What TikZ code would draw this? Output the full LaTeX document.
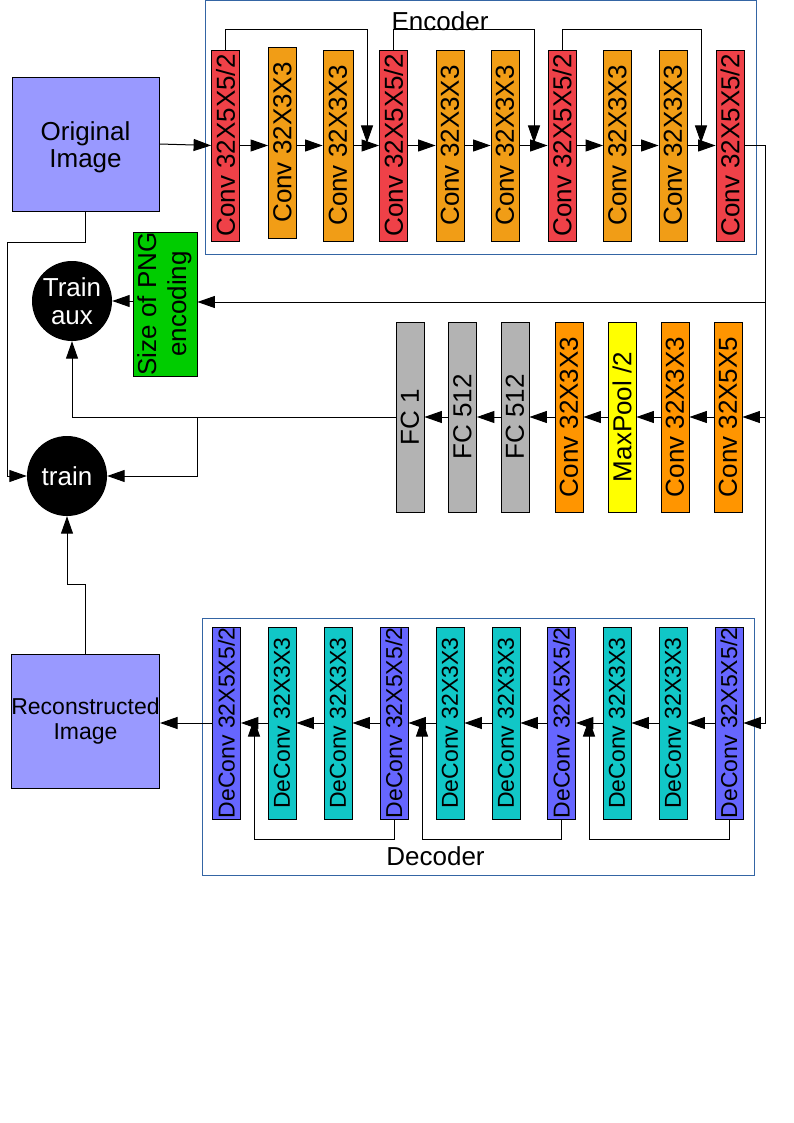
\documentclass[tikz,border=0pt]{standalone}
\usepackage{fontspec}
\setmainfont{Liberation Sans}
\usepackage{graphicx}
\usetikzlibrary{arrows.meta,calc}
\definecolor{encred}{RGB}{239,65,72}
\definecolor{encorange}{RGB}{241,157,22}
\definecolor{midorange}{RGB}{255,149,0}
\definecolor{mpyellow}{RGB}{255,255,0}
\definecolor{fcgray}{RGB}{179,179,179}
\definecolor{pnggreen}{RGB}{0,204,0}
\definecolor{decblue}{RGB}{102,102,255}
\definecolor{deccyan}{RGB}{17,199,199}
\definecolor{imgblue}{RGB}{153,153,255}
\definecolor{frameblue}{RGB}{52,101,164}
\newcommand{\vtxt}[1]{\rotatebox{90}{\makebox[0pt]{#1}}}
\begin{document}
\begin{tikzpicture}[x=1pt,y=-1pt,
  arr/.style={-{Triangle[length=17.5pt,width=12pt]}, line width=1pt},
  blk/.style={draw=black, line width=0.8pt, inner sep=0pt, minimum width=28pt, minimum height=191pt, font=\fontsize{26}{28}\selectfont},
  dblk/.style={blk, minimum height=192pt, font=\fontsize{23}{26}\selectfont},
  frame/.style={draw=frameblue, line width=1pt},
  imgbox/.style={draw=black, fill=imgblue, line width=0.8pt, minimum width=147pt, minimum height=134pt, inner sep=0pt, align=center},
  trainc/.style={circle, fill=black, text=white, minimum size=80pt, inner sep=0pt, align=center, font=\fontsize{26}{28}\selectfont},
  lbl/.style={font=\fontsize{26}{28}\selectfont, inner sep=0pt}]
\fill[white] (0,0) rectangle (794,1123);
\useasboundingbox (0,0) rectangle (794,1123);

% frames
\draw[frame] (205,1) rectangle (756,254);
\draw[frame] (202,618) rectangle (754,875);
\node[lbl] (enclbl) at (440,21) {Encoder};
\node[lbl] (declbl) at (435.5,856) {Decoder};

% image boxes
\node[imgbox] (orig) at (85.5,144) {};
\node[lbl, font=\fontsize{26}{27}\selectfont, align=center] (origtxt) at (85.5,147) {Original\\Image};
\node[imgbox, font=\fontsize{23}{25}\selectfont] (recon) at (85.5,721) {Reconstructed\\Image};

% train circles
\node[trainc] (aux) at (72,301) {Train\\aux};
\node[trainc] (train) at (67,476) {train};

% PNG size
\node[draw=black, line width=0.8pt, fill=pnggreen, minimum width=64pt, minimum height=144pt, inner sep=0pt, font=\fontsize{26}{30}\selectfont] (png) at (165,304)
  {\rotatebox{90}{\begin{tabular}{@{}c@{}}\makebox[0pt]{Size of PNG}\\\makebox[0pt]{encoding}\end{tabular}}};

% encoder blocks
\node[blk, fill=encred]    (e1)  at (225.5,145.5) {\vtxt{Conv 32X5X5/2}};
\node[blk, fill=encorange] (e2)  at (282.5,142.5) {\vtxt{Conv 32X3X3}};
\node[blk, fill=encorange, minimum width=30pt] (e3)  at (338,145.5) {\vtxt{Conv 32X3X3}};
\node[blk, fill=encred]    (e4)  at (393.5,145.5) {\vtxt{Conv 32X5X5/2}};
\node[blk, fill=encorange] (e5)  at (450,145.5) {\vtxt{Conv 32X3X3}};
\node[blk, fill=encorange] (e6)  at (505,145.5) {\vtxt{Conv 32X3X3}};
\node[blk, fill=encred]    (e7)  at (562,145.5) {\vtxt{Conv 32X5X5/2}};
\node[blk, fill=encorange] (e8)  at (617.5,145.5) {\vtxt{Conv 32X3X3}};
\node[blk, fill=encorange] (e9)  at (673,145.5) {\vtxt{Conv 32X3X3}};
\node[blk, fill=encred]    (e10) at (730,145.5) {\vtxt{Conv 32X5X5/2}};

% middle chain
\node[blk, fill=fcgray, minimum height=190pt]     (m1) at (410,417) {\vtxt{FC 1}};
\node[blk, fill=fcgray, minimum height=190pt]     (m2) at (462.5,417) {\vtxt{FC 512}};
\node[blk, fill=fcgray, minimum height=190pt]     (m3) at (515,417) {\vtxt{FC 512}};
\node[blk, fill=midorange, minimum height=190pt]  (m4) at (569,417) {\vtxt{Conv 32X3X3}};
\node[blk, fill=mpyellow, minimum height=190pt]   (m5) at (622,417) {\vtxt{MaxPool /2}};
\node[blk, fill=midorange, minimum height=190pt]  (m6) at (675,417) {\vtxt{Conv 32X3X3}};
\node[blk, fill=midorange, minimum height=190pt]  (m7) at (728,417) {\vtxt{Conv 32X5X5}};

% decoder blocks
\node[dblk, fill=decblue] (d1)  at (226.5,723) {\vtxt{DeConv 32X5X5/2}};
\node[dblk, fill=deccyan] (d2)  at (282,723) {\vtxt{DeConv 32X3X3}};
\node[dblk, fill=deccyan] (d3)  at (338,723) {\vtxt{DeConv 32X3X3}};
\node[dblk, fill=decblue] (d4)  at (394,723) {\vtxt{DeConv 32X5X5/2}};
\node[dblk, fill=deccyan] (d5)  at (450,723) {\vtxt{DeConv 32X3X3}};
\node[dblk, fill=deccyan] (d6)  at (506,723) {\vtxt{DeConv 32X3X3}};
\node[dblk, fill=decblue] (d7)  at (561.5,723) {\vtxt{DeConv 32X5X5/2}};
\node[dblk, fill=deccyan] (d8)  at (617,723) {\vtxt{DeConv 32X3X3}};
\node[dblk, fill=deccyan] (d9)  at (673,723) {\vtxt{DeConv 32X3X3}};
\node[dblk, fill=decblue] (d10) at (729,723) {\vtxt{DeConv 32X5X5/2}};

% encoder connectors
\draw[arr] (orig.east) -- (e1.west);
\draw[arr] (e1.east) -- (e1.east -| e2.west);
\draw[arr] (e1.east -| e2.east) -- (e3.west);
\foreach \a/\b in {e3/e4,e4/e5,e5/e6,e6/e7,e7/e8,e8/e9,e9/e10}
  \draw[arr] (\a.east) -- (\b.west);
\coordinate (k1) at (367,30);  \coordinate (s1) at (367,143);
\coordinate (k2) at (534,30);  \coordinate (s2) at (534,143);
\coordinate (k3) at (701,30);  \coordinate (s3) at (701,143);
\draw[arr] (e1.north) |- (k1) -- (s1);
\draw[arr] (e4.north) |- (k2) -- (s2);
\draw[arr] (e7.north) |- (k3) -- (s3);

% output bus
\coordinate (c1) at (765,145.5);
\coordinate (c2) at (765,723);
\coordinate (b1) at (765,302);
\coordinate (b2) at (765,417);
\draw[arr] (e10.east) -- (c1) -- (c2) -- (d10.east);
\draw[arr] (b1) -- (b1 -| png.east);
\draw[arr] (b2) -- (m7.east);

% middle chain connectors
\foreach \a/\b in {m7/m6,m6/m5,m5/m4,m4/m3,m3/m2,m2/m1}
  \draw[arr] (\a.west) -- (\b.east);
\coordinate (j1) at (197,417);
\draw[arr] (m1.west) -| (aux.south);
\draw[arr] (j1) |- (train.east);

% png to aux
\draw[arr] (aux.east -| png.west) -- (aux.east);

% original to train
\coordinate (p1) at (7,242);
\draw[arr] (orig.south) |- (p1) |- (train.west);

% reconstructed to train
\coordinate (q1) at (67,584);
\draw[arr] (recon.north) |- (q1) -- (train.south);

% decoder connectors
\foreach \a/\b in {d10/d9,d9/d8,d8/d7,d7/d6,d6/d5,d5/d4,d4/d3,d3/d2,d2/d1}
  \draw[arr] (\a.west) -- (\b.east);
\draw[arr] (d1.west) -- (recon.east |- d1.west);
\coordinate (r1) at (589,839); \coordinate (t1) at (589,719);
\coordinate (r2) at (422,839); \coordinate (t2) at (422,719);
\coordinate (r3) at (254,839); \coordinate (t3) at (254,719);
\draw[arr] (d10.south) |- (r1) -- (t1);
\draw[arr] (d7.south) |- (r2) -- (t2);
\draw[arr] (d4.south) |- (r3) -- (t3);
\end{tikzpicture}
\end{document}
